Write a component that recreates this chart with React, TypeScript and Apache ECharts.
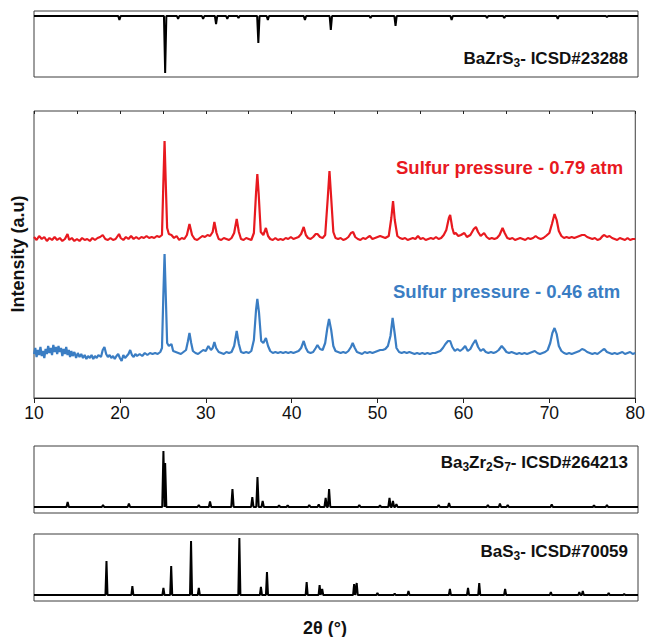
import React, { useEffect, useRef } from "react";
import * as echarts from "echarts";

// x range and tick labels (2θ, degrees)
const xMin = 10;
const xMax = 80;
const xTickLabels = [10, 20, 30, 40, 50, 60, 70, 80];

// Reference pattern: BaZrS3 (ICSD#23288), drawn downward (depth of each stick)
const bazrs3Theta = [19.9, 25.2, 26.7, 29.6, 31.1, 32.4, 33.7, 36.0, 37.1, 41.4, 44.4, 49.0, 51.9, 58.4, 62.5, 64.5, 70.7, 76.4];
const bazrs3Int = [4, 57, 3, 3, 8, 3, 2, 27, 4, 4, 14, 2, 10, 4, 2, 2, 3, 1];

// Reference pattern: Ba3Zr2S7 (ICSD#264213)
const ba3zr2s7Theta = [13.9, 18.0, 21.0, 25.0, 25.2, 29.1, 30.4, 33.0, 35.3, 35.9, 36.5, 38.4, 39.4, 41.9, 43.0, 43.8, 44.2, 47.7, 50.1, 51.2, 51.6, 52.0, 56.9, 58.1, 62.6, 64.0, 64.9, 70.0, 74.9, 76.4];
const ba3zr2s7Int = [5, 2, 3.5, 56, 44, 2, 5.5, 18, 10, 30, 6, 1.5, 1.5, 2, 2.5, 9, 18, 2, 1.5, 9, 6, 3, 2, 4, 2, 3.5, 2, 2.5, 1.5, 2];

// Reference pattern: BaS3 (ICSD#70059)
const bas3Theta = [18.4, 21.4, 25.0, 25.9, 28.2, 29.1, 33.8, 36.3, 37.0, 41.6, 43.1, 43.4, 47.1, 47.4, 49.8, 51.8, 53.4, 58.2, 60.3, 61.6, 64.6, 69.9, 73.2, 73.6, 76.6, 78.4];
const bas3Int = [34, 9, 7, 29, 54, 7, 57, 8, 23, 13, 10, 6, 11, 12, 2, 1.5, 4, 6, 7, 12, 6, 3, 3, 4, 2, 1];

// Measured pattern, sulfur pressure 0.79 atm
const red079 = [
  [10.0, 161], [10.3, 158], [10.6, 162], [10.9, 159], [11.2, 161], [11.5, 157], [11.8, 160], [12.1, 158], [12.4, 161], [12.7, 158],
  [13.0, 160], [13.3, 157], [13.6, 159], [13.9, 164], [14.1, 158], [14.4, 160], [14.7, 157], [15.0, 159], [15.3, 157], [15.6, 160],
  [15.9, 158], [16.2, 159], [16.5, 157], [16.8, 160], [17.1, 158], [17.4, 160], [17.7, 161], [18.0, 163], [18.3, 159], [18.6, 158],
  [18.9, 160], [19.2, 158], [19.5, 159], [19.9, 164], [20.1, 160], [20.4, 158], [20.7, 161], [21.0, 159], [21.3, 162], [21.6, 159],
  [21.9, 161], [22.2, 159], [22.5, 161], [22.8, 160], [23.1, 162], [23.4, 160], [23.7, 161], [24.0, 160], [24.3, 162], [24.6, 161],
  [24.9, 163], [25.05, 212], [25.2, 257], [25.35, 212], [25.5, 170], [25.7, 164], [26.0, 163], [26.3, 160], [26.6, 162], [26.9, 158],
  [27.2, 160], [27.5, 159], [27.8, 163], [28.1, 174], [28.4, 163], [28.7, 159], [29.0, 158], [29.3, 160], [29.6, 162], [29.9, 161],
  [30.2, 163], [30.5, 162], [30.8, 166], [31.0, 176], [31.25, 165], [31.5, 159], [31.8, 158], [32.1, 160], [32.4, 159], [32.7, 158],
  [33.0, 160], [33.3, 165], [33.6, 179], [33.85, 166], [34.1, 159], [34.4, 158], [34.7, 160], [35.0, 159], [35.3, 158], [35.6, 165],
  [35.85, 205], [36.0, 224], [36.15, 205], [36.4, 166], [36.7, 163], [37.0, 170], [37.25, 162], [37.5, 159], [37.8, 158], [38.1, 160],
  [38.4, 158], [38.7, 159], [39.0, 158], [39.3, 160], [39.6, 159], [39.9, 161], [40.2, 159], [40.5, 160], [40.8, 161], [41.1, 164],
  [41.4, 171], [41.65, 163], [41.9, 160], [42.2, 159], [42.5, 161], [42.8, 164], [43.0, 164], [43.3, 161], [43.6, 160], [43.9, 163],
  [44.2, 200], [44.4, 227], [44.6, 200], [44.85, 166], [45.1, 160], [45.4, 159], [45.7, 160], [46.0, 158], [46.3, 159], [46.6, 161],
  [46.9, 165], [47.15, 166], [47.4, 161], [47.7, 159], [48.0, 158], [48.3, 160], [48.6, 159], [48.9, 161], [49.1, 162], [49.4, 159],
  [49.7, 160], [50.0, 161], [50.3, 162], [50.6, 161], [50.9, 160], [51.3, 162], [51.6, 180], [51.8, 197], [52.0, 178], [52.3, 162],
  [52.6, 160], [52.9, 159], [53.2, 160], [53.5, 158], [53.8, 159], [54.1, 160], [54.4, 159], [54.7, 162], [55.0, 159], [55.3, 160],
  [55.6, 158], [55.9, 159], [56.2, 160], [56.5, 159], [56.8, 161], [57.1, 159], [57.4, 160], [57.7, 163], [58.0, 168], [58.3, 180],
  [58.45, 183], [58.7, 170], [58.9, 164], [59.1, 165], [59.4, 162], [59.7, 163], [60.1, 165], [60.4, 161], [60.8, 163], [61.2, 169],
  [61.45, 171], [61.7, 166], [62.0, 162], [62.4, 165], [62.7, 161], [63.0, 159], [63.3, 160], [63.6, 159], [63.9, 160], [64.2, 163],
  [64.55, 170], [64.8, 165], [65.1, 160], [65.4, 159], [65.7, 160], [66.0, 158], [66.3, 159], [66.6, 160], [66.9, 159], [67.2, 158],
  [67.5, 160], [67.8, 159], [68.1, 160], [68.4, 162], [68.7, 160], [69.0, 159], [69.3, 160], [69.6, 162], [70.0, 165], [70.3, 174],
  [70.6, 184], [70.85, 178], [71.1, 167], [71.4, 162], [71.7, 160], [72.0, 161], [72.3, 160], [72.6, 161], [72.9, 160], [73.2, 161],
  [73.5, 162], [73.8, 163], [74.1, 163], [74.4, 161], [74.7, 160], [75.0, 159], [75.3, 160], [75.6, 158], [75.9, 159], [76.2, 162],
  [76.4, 163], [76.7, 161], [77.0, 162], [77.3, 160], [77.6, 159], [77.9, 158], [78.2, 160], [78.5, 159], [78.8, 158], [79.1, 160],
  [79.4, 158], [79.7, 159], [80.0, 159],
];

// Measured pattern, sulfur pressure 0.46 atm
const blue046 = [
  [10.0, 44], [10.15, 50], [10.3, 41], [10.45, 48], [10.6, 43], [10.75, 51], [10.9, 42], [11.05, 47], [11.2, 40], [11.35, 49],
  [11.5, 44], [11.65, 52], [11.8, 45], [11.95, 50], [12.1, 43], [12.25, 53], [12.4, 46], [12.55, 51], [12.7, 44], [12.85, 52],
  [13.0, 46], [13.15, 50], [13.3, 42], [13.45, 49], [13.6, 44], [13.75, 51], [13.9, 43], [14.05, 48], [14.2, 41], [14.35, 47],
  [14.5, 42], [14.7, 46], [14.9, 40], [15.1, 45], [15.3, 41], [15.5, 44], [15.7, 40], [15.9, 43], [16.1, 39], [16.3, 42],
  [16.5, 40], [16.7, 43], [16.9, 39], [17.1, 42], [17.3, 40], [17.5, 43], [17.8, 41], [18.0, 48], [18.2, 51], [18.4, 44],
  [18.6, 41], [18.8, 43], [19.0, 40], [19.2, 42], [19.4, 39], [19.6, 42], [19.8, 44], [20.0, 40], [20.2, 37], [20.4, 43],
  [20.6, 40], [20.8, 42], [21.0, 44], [21.2, 48], [21.4, 43], [21.6, 41], [21.8, 44], [22.0, 42], [22.3, 44], [22.6, 42],
  [22.9, 45], [23.2, 43], [23.5, 45], [23.8, 44], [24.1, 45], [24.4, 44], [24.7, 46], [24.9, 50], [25.05, 100], [25.2, 144],
  [25.35, 100], [25.5, 55], [25.7, 52], [26.0, 54], [26.2, 47], [26.5, 46], [26.8, 45], [27.1, 44], [27.4, 46], [27.7, 48],
  [27.9, 56], [28.1, 65], [28.3, 55], [28.5, 47], [28.8, 45], [29.1, 44], [29.4, 46], [29.7, 48], [30.0, 47], [30.3, 52],
  [30.6, 48], [30.8, 50], [31.0, 56], [31.2, 50], [31.5, 46], [31.8, 45], [32.1, 44], [32.4, 46], [32.7, 45], [33.0, 46],
  [33.3, 52], [33.6, 67], [33.85, 54], [34.1, 46], [34.4, 45], [34.7, 46], [35.0, 45], [35.3, 47], [35.6, 58], [35.85, 88],
  [36.0, 99], [36.2, 85], [36.45, 57], [36.7, 55], [37.0, 60], [37.25, 52], [37.5, 47], [37.8, 45], [38.1, 46], [38.4, 45],
  [38.7, 46], [39.0, 45], [39.3, 46], [39.6, 45], [39.9, 46], [40.2, 45], [40.5, 46], [40.8, 47], [41.1, 50], [41.4, 57],
  [41.65, 50], [41.9, 46], [42.2, 45], [42.5, 46], [42.8, 50], [43.0, 53], [43.3, 49], [43.6, 48], [43.9, 55], [44.15, 70],
  [44.35, 79], [44.6, 68], [44.85, 52], [45.1, 47], [45.4, 46], [45.7, 45], [46.0, 46], [46.3, 45], [46.6, 47], [46.9, 51],
  [47.1, 55], [47.35, 50], [47.6, 46], [47.9, 45], [48.2, 44], [48.5, 46], [48.8, 45], [49.1, 46], [49.4, 45], [49.7, 46],
  [50.0, 47], [50.3, 48], [50.6, 48], [50.9, 49], [51.2, 52], [51.5, 62], [51.75, 80], [52.0, 64], [52.2, 50], [52.5, 46],
  [52.8, 45], [53.1, 46], [53.4, 45], [53.7, 46], [54.0, 45], [54.3, 44], [54.6, 45], [54.9, 44], [55.2, 45], [55.5, 44],
  [55.8, 45], [56.1, 44], [56.4, 45], [56.7, 45], [57.0, 46], [57.3, 47], [57.6, 50], [57.9, 54], [58.2, 57], [58.45, 57],
  [58.7, 51], [59.0, 47], [59.3, 49], [59.6, 47], [59.9, 49], [60.2, 52], [60.5, 47], [60.8, 49], [61.1, 54], [61.4, 58],
  [61.7, 51], [62.0, 47], [62.3, 49], [62.6, 46], [62.9, 45], [63.2, 46], [63.5, 45], [63.8, 46], [64.1, 48], [64.45, 52],
  [64.75, 49], [65.0, 46], [65.3, 45], [65.6, 46], [65.9, 45], [66.2, 44], [66.5, 45], [66.8, 44], [67.1, 45], [67.4, 44],
  [67.7, 45], [68.0, 46], [68.3, 47], [68.6, 45], [68.9, 44], [69.2, 45], [69.5, 46], [69.8, 48], [70.1, 55], [70.35, 65],
  [70.6, 70], [70.85, 64], [71.1, 52], [71.4, 47], [71.7, 45], [72.0, 44], [72.3, 45], [72.6, 44], [72.9, 45], [73.2, 46],
  [73.5, 47], [73.8, 49], [74.1, 48], [74.4, 46], [74.7, 45], [75.0, 44], [75.3, 45], [75.6, 44], [75.9, 46], [76.2, 48],
  [76.4, 49], [76.7, 46], [77.0, 45], [77.3, 44], [77.6, 45], [77.9, 44], [78.2, 45], [78.5, 46], [78.8, 44], [79.1, 45],
  [79.4, 46], [79.7, 44], [80.0, 45],
];

const RED = "#e8191f";
const BLUE = "#3a7dc3";
const FONT = "'Liberation Sans', Arial, sans-serif";

function stickLine(theta: number[], inten: number[], hw: number) {
  const pts: number[][] = [[xMin, 0]];
  theta.forEach((t, i) => {
    pts.push([t - hw, 0], [t, inten[i]], [t + hw, 0]);
  });
  pts.push([xMax, 0]);
  return pts;
}

function refLabel(name: string[], right: number, y: number) {
  let txt = "";
  name.forEach((part, i) => {
    if (!part) return;
    txt += i % 2 === 0 ? `{n|${part}}` : `{s|${part}}`;
  });
  return {
    type: "text",
    right: 648 - right,
    top: y - 10,
    style: {
      text: txt,
      rich: {
        n: { fontFamily: FONT, fontSize: 17, fontWeight: "bold", fill: "#111", lineHeight: 20, verticalAlign: "middle" },
        s: { fontFamily: FONT, fontSize: 12, fontWeight: "bold", fill: "#111", lineHeight: 20, padding: [9, 0, 0, 0], verticalAlign: "middle" },
      },
    },
  };
}

export default function App() {
  const ref = useRef<HTMLDivElement>(null);
  useEffect(() => {
    if (!ref.current) return;
    const chart = echarts.init(ref.current, undefined, { renderer: "svg" });
    const L = 34;
    const R = 10;
    const grids = [
      { left: L, right: R, top: 11, height: 66 },
      { left: L, right: R, top: 111, height: 287 },
      { left: L, right: R, top: 446, height: 67 },
      { left: L, right: R, top: 534, height: 67 },
    ].map((g) => ({ ...g, show: true, borderColor: "#3c3c3c", borderWidth: 1, backgroundColor: "transparent" }));

    const hiddenX = (gi: number) => ({
      type: "value",
      gridIndex: gi,
      min: xMin,
      max: xMax,
      axisLine: { show: false },
      axisTick: { show: false },
      axisLabel: { show: false },
      splitLine: { show: false },
    });
    const hiddenY = (gi: number, min: number, max: number, inverse = false) => ({
      type: "value",
      gridIndex: gi,
      min,
      max,
      inverse,
      axisLine: { show: false },
      axisTick: { show: false },
      axisLabel: { show: false },
      splitLine: { show: false },
    });

    const option: any = {
      animation: false,
      backgroundColor: "#ffffff",
      grid: grids,
      xAxis: [
        hiddenX(0),
        {
          type: "value",
          gridIndex: 1,
          min: xMin,
          max: xMax,
          interval: 10,
          axisLine: { show: true, lineStyle: { color: "#222", width: 1 } },
          axisTick: { show: true, length: 5, inside: false, lineStyle: { color: "#222" } },
          axisLabel: {
            show: true,
            fontFamily: FONT,
            fontSize: 17.5,
            color: "#111",
            margin: 6,
            formatter: (v: number) => (xTickLabels.includes(v) ? String(v) : ""),
          },
          splitLine: { show: false },
        },
        hiddenX(2),
        hiddenX(3),
        {
          type: "value",
          gridIndex: 1,
          min: xMin,
          max: xMax,
          interval: 5,
          axisLine: { show: false },
          axisTick: { show: true, length: 3, inside: true, lineStyle: { color: "#222" } },
          axisLabel: { show: false },
          splitLine: { show: false },
        },
      ],
      yAxis: [
        hiddenY(0, -5, 61, true),
        hiddenY(1, 0, 287),
        hiddenY(2, -6, 61),
        hiddenY(3, -6, 61),
      ],
      series: [
        {
          type: "line",
          xAxisIndex: 0,
          yAxisIndex: 0,
          data: stickLine(bazrs3Theta, bazrs3Int, 0.14),
          showSymbol: false,
          lineStyle: { color: "#000", width: 2 },
        },
        {
          type: "line",
          xAxisIndex: 1,
          yAxisIndex: 1,
          data: red079,
          showSymbol: false,
          lineStyle: { color: RED, width: 2.2 },
        },
        {
          type: "line",
          xAxisIndex: 1,
          yAxisIndex: 1,
          data: blue046,
          showSymbol: false,
          lineStyle: { color: BLUE, width: 2.2 },
        },
        {
          type: "line",
          xAxisIndex: 2,
          yAxisIndex: 2,
          data: stickLine(ba3zr2s7Theta, ba3zr2s7Int, 0.14),
          showSymbol: false,
          lineStyle: { color: "#000", width: 2 },
        },
        {
          type: "line",
          xAxisIndex: 3,
          yAxisIndex: 3,
          data: stickLine(bas3Theta, bas3Int, 0.12),
          showSymbol: false,
          lineStyle: { color: "#000", width: 2 },
        },
      ],
      graphic: [
        refLabel(["BaZrS", "3", "- ICSD#23288"], 628, 58),
        refLabel(["Ba", "3", "Zr", "2", "S", "7", "- ICSD#264213"], 628, 462),
        refLabel(["BaS", "3", "- ICSD#70059"], 628, 551),
        {
          type: "text",
          left: 396,
          top: 158,
          style: { text: "Sulfur pressure - 0.79 atm", fontFamily: FONT, fontSize: 18.5, fontWeight: "bold", fill: RED },
        },
        {
          type: "text",
          left: 393,
          top: 282,
          style: { text: "Sulfur pressure - 0.46 atm", fontFamily: FONT, fontSize: 18.5, fontWeight: "bold", fill: BLUE },
        },
        {
          type: "text",
          x: 18,
          y: 254,
          rotation: Math.PI / 2,
          style: {
            text: "Intensity (a.u)",
            fontFamily: FONT,
            fontSize: 18,
            fontWeight: "bold",
            fill: "#111",
            align: "center",
            verticalAlign: "middle",
          },
        },
        {
          type: "text",
          x: 325,
          y: 628,
          style: {
            text: "2θ (°)",
            fontFamily: FONT,
            fontSize: 18,
            fontWeight: "bold",
            fill: "#111",
            align: "center",
            verticalAlign: "middle",
          },
        },
      ],
    };
    chart.setOption(option);
    return () => chart.dispose();
  }, []);
  return <div ref={ref} style={{ position: "fixed", left: 0, top: 0, width: 648, height: 637 }} />;
}
